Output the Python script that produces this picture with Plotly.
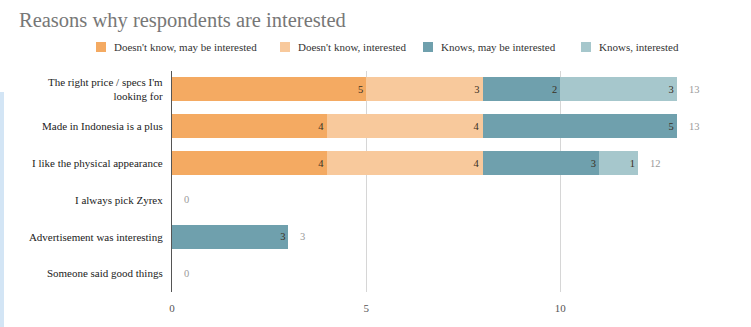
import plotly.graph_objects as go

categories = [
    "The right price / specs I'm<br>looking for",
    "Made in Indonesia is a plus",
    "I like the physical appearance",
    "I always pick Zyrex",
    "Advertisement was interesting",
    "Someone said good things",
]
series_names = [
    "Doesn't know, may be interested",
    "Doesn't know, interested",
    "Knows, may be interested",
    "Knows, interested",
]
dk_may = [5, 4, 4, 0, 0, 0]
dk_int = [3, 4, 4, 0, 0, 0]
kn_may = [2, 5, 3, 0, 3, 0]
kn_int = [3, 0, 1, 0, 0, 0]
series_values = [dk_may, dk_int, kn_may, kn_int]
colors = ["#f4aa62", "#f8c99c", "#6fa0ad", "#a6c7cc"]
x_ticks = [0, 5, 10]

FONT = "Liberation Serif"
W, H = 751, 327
ML, MR, MT, MB = 172, 16, 71, 35
PW, PH = W - ML - MR, H - MT - MB


def px(x):
    return (x - ML) / PW


def py(y):
    return (H - MB - y) / PH


totals = [sum(v) for v in zip(*series_values)]

fig = go.Figure()
for name, vals, col in zip(series_names, series_values, colors):
    fig.add_trace(go.Bar(
        y=categories, x=vals, name=name, orientation="h",
        marker=dict(color=col, line=dict(width=0)),
        text=[str(v) if v else "" for v in vals],
        textposition="inside", insidetextanchor="end",
        textfont=dict(family=FONT, size=10.5, color="#3a3024"),
        showlegend=False,
    ))

# totals written just past the end of each stacked bar
for cat, tot in zip(categories, totals):
    fig.add_annotation(x=tot, y=cat, text=str(tot), showarrow=False,
                       xanchor="left", yanchor="middle", xshift=10,
                       font=dict(family=FONT, size=10.5, color="#9a9a9a"))

# legend row: coloured squares with labels
legend_x = [96, 280, 423, 581]
legend_y = 47
for name, col, lx in zip(series_names, colors, legend_x):
    fig.add_shape(type="rect", xref="paper", yref="paper",
                  x0=px(lx), x1=px(lx + 10), y0=py(legend_y + 5), y1=py(legend_y - 5),
                  fillcolor=col, line=dict(width=0))
    fig.add_annotation(xref="paper", yref="paper", x=px(lx + 16), y=py(legend_y),
                       text=name, showarrow=False, xanchor="left", yanchor="middle",
                       font=dict(family=FONT, size=11, color="#333333"))

fig.update_layout(
    width=W, height=H,
    barmode="stack", bargap=0.35,
    paper_bgcolor="white", plot_bgcolor="white",
    margin=dict(l=ML, r=MR, t=MT, b=MB),
    font=dict(family=FONT, size=11, color="#222222"),
    title=dict(text="Reasons why respondents are interested",
               x=19 / W, xanchor="left", y=1 - 20 / H, yanchor="middle",
               font=dict(family=FONT, size=20.5, color="#777777")),
    showlegend=False,
    uniformtext=dict(mode="show", minsize=9),
)
fig.update_xaxes(range=[0, 14.5], tickvals=x_ticks, showgrid=True,
                 gridcolor="#d6d6d6", gridwidth=1, zeroline=False,
                 showline=False, tickfont=dict(family=FONT, size=11, color="#555555"),
                 ticks="", ticklabelstandoff=8)
fig.update_yaxes(autorange="reversed", showgrid=False, showline=True,
                 linecolor="#555555", linewidth=1.2, ticks="",
                 tickfont=dict(family=FONT, size=11, color="#222222"),
                 ticklabelstandoff=6)

# thin light-blue strip along the left edge
fig.add_shape(type="rect", xref="paper", yref="paper",
              x0=px(0), x1=px(4), y0=py(H), y1=py(92),
              fillcolor="#d3e5f5", line=dict(width=0), layer="below")

fig.write_html("out.html")
